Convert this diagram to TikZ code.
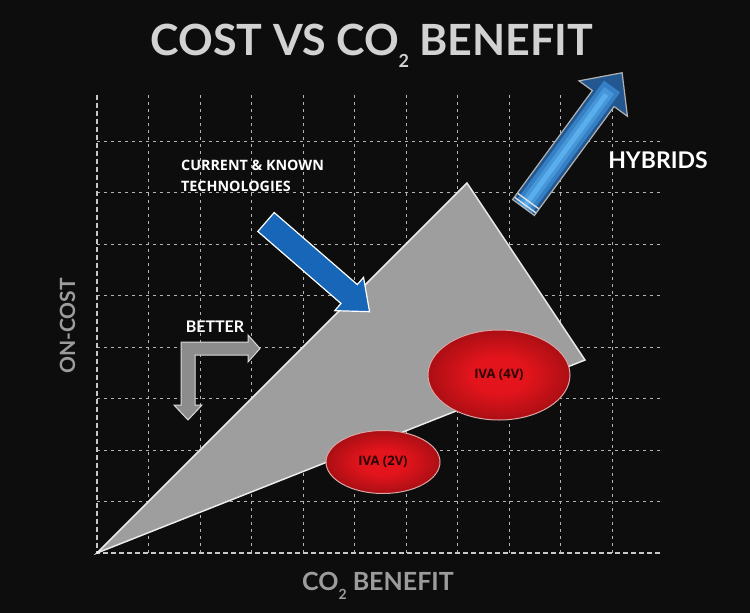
\documentclass[tikz,border=0pt]{standalone}
\usepackage{fontspec}
\setmainfont{Lato}
\newfontfamily\labelfont{Open Sans}
\usetikzlibrary{arrows.meta, positioning, shapes.geometric, calc}
\definecolor{bgblack}{HTML}{0D0D0D}
\definecolor{gridgray}{HTML}{B4B4B4}
\definecolor{axisgray}{HTML}{C8C8C8}
\definecolor{wedgegray}{HTML}{9E9E9E}
\definecolor{techblue}{HTML}{1766B8}
\definecolor{hybdark}{HTML}{22578F}
\definecolor{hybmid}{HTML}{3580C4}
\definecolor{hyblight}{HTML}{5AAEEC}
\definecolor{ivared}{HTML}{E3141C}
\definecolor{ivadark}{HTML}{4E0606}
\definecolor{ivaedge}{HTML}{D9A5A5}
\definecolor{ivatext}{HTML}{2B0505}
\definecolor{bettergray}{HTML}{8C8C8C}
\definecolor{titlegray}{HTML}{D2D2D2}
\definecolor{labelgray}{HTML}{9C9C9C}
\pgfdeclareradialshading{ivashade}{\pgfpointorigin}{color(0bp)=(ivared); color(10bp)=(ivared); color(50bp)=(ivadark); color(100bp)=(ivadark)}

\begin{document}
\begin{tikzpicture}[
  x=1pt, y=-1pt,
  every node/.style={inner sep=0pt},
  gridline/.style={gridgray, line width=0.8pt, dash pattern=on 3pt off 4pt},
  axisline/.style={axisgray, line width=2pt, dash pattern=on 5pt off 3pt},
  wedge/.style={fill=wedgegray, draw=white!92!black, line width=1.5pt, line join=miter},
  iva/.style={ellipse, shading=ivashade, draw=ivaedge, line width=1pt,
              font=\labelfont\bfseries\fontsize{13}{13}\selectfont, text=ivatext},
  techarrow/.style={fill=techblue, draw=white, line width=1.2pt, line join=miter},
  hybarrow/.style={draw=gray!60!white, line width=1.2pt, line join=miter},
  stripe/.style={white!80!gray, line width=1.3pt},
  better/.style={fill=bettergray, draw=white!85!black, line width=1pt},
  title/.style={font=\bfseries\fontsize{43}{43}\selectfont, text=titlegray, anchor=base},
  axislabel/.style={font=\bfseries\fontsize{25}{25}\selectfont, text=labelgray, anchor=base},
  lbl/.style={font=\labelfont\bfseries\fontsize{14.3}{21}\selectfont, text=white, align=left},
  tag/.style={font=\bfseries\fontsize{23}{23}\selectfont, text=white, anchor=base}
]
\useasboundingbox[fill=bgblack] (0,0) rectangle (750,613);

\foreach \i in {1,...,10}
  \draw[gridline] ({97+51.5*\i},95) -- ({97+51.5*\i},553);
\foreach \j in {1,...,8}
  \draw[gridline] (97,{553-51.5*\j}) -- (660,{553-51.5*\j});
\draw[axisline] (97,95) -- (97,553) -- (660,553);

\coordinate (origin) at (97,553);
\coordinate (apex) at (467,183);
\coordinate (corner) at (585,360);
\filldraw[wedge] (origin) -- (apex) -- (corner) -- cycle;

\node[iva, minimum width=142, minimum height=90] (iva4) at (499,375) {IVA (4V)};
\node[iva, minimum width=114, minimum height=63] (iva2) at (383,462) {IVA (2V)};

\coordinate (techtail) at (266,222);
\begin{scope}[shift={(techtail)}, rotate=-40.9]
  \filldraw[techarrow] (0pt,12.5pt) -- (110pt,12.5pt) -- (110pt,22pt) -- (137pt,0pt)
    -- (110pt,-22pt) -- (110pt,-12.5pt) -- (0pt,-12.5pt) -- cycle;
\end{scope}

\coordinate (hybtail) at (523.5,207.5);
\begin{scope}[shift={(hybtail)}, rotate=53.8]
  \begin{scope}
    \clip (0pt,13.5pt) -- (135pt,13.5pt) -- (135pt,30pt) -- (167pt,0pt)
      -- (135pt,-30pt) -- (135pt,-13.5pt) -- (0pt,-13.5pt) -- cycle;
    \fill[hybdark] (-5pt,-35pt) rectangle (170pt,35pt);
    \draw[hybmid, line width=20pt] (0pt,0pt) -- (150pt,0pt);
    \draw[hybmid!50!hyblight, line width=12pt] (0pt,0pt) -- (145pt,0pt);
    \draw[hyblight, line width=5pt] (0pt,0pt) -- (140pt,0pt);
  \end{scope}
  \draw[hybarrow] (0pt,13.5pt) -- (135pt,13.5pt) -- (135pt,30pt) -- (167pt,0pt)
    -- (135pt,-30pt) -- (135pt,-13.5pt) -- (0pt,-13.5pt) -- cycle;
  \foreach \d in {3,8}
    \draw[stripe] (\d pt,-13pt) -- (\d pt,13pt);
\end{scope}

\filldraw[better] (181,342) -- (248,342) -- (248,335) -- (260,348.5) -- (248,362)
  -- (248,355) -- (195,355) -- (195,405) -- (202,405) -- (188,420) -- (174,405)
  -- (181,405) -- cycle;

\node[title] (head) at (372,55) {COST VS CO\raisebox{-13pt}{\fontsize{18}{18}\selectfont 2} BENEFIT};
\node[axislabel, rotate=90, font=\bfseries\fontsize{21}{21}\selectfont] (ylabel) at (75,326) {ON-COST};
\node[axislabel] (xlabel) at (378,590) {CO\raisebox{-9pt}{\fontsize{14}{14}\selectfont 2} BENEFIT};
\node[lbl, anchor=north west] (current) at (181,160) {CURRENT \& KNOWN\\TECHNOLOGIES};
\node[tag] (hybrids) at (658,168) {HYBRIDS};
\node[tag, font=\bfseries\fontsize{16}{16}\selectfont] (betterlbl) at (215,332) {BETTER};
\end{tikzpicture}
\end{document}
